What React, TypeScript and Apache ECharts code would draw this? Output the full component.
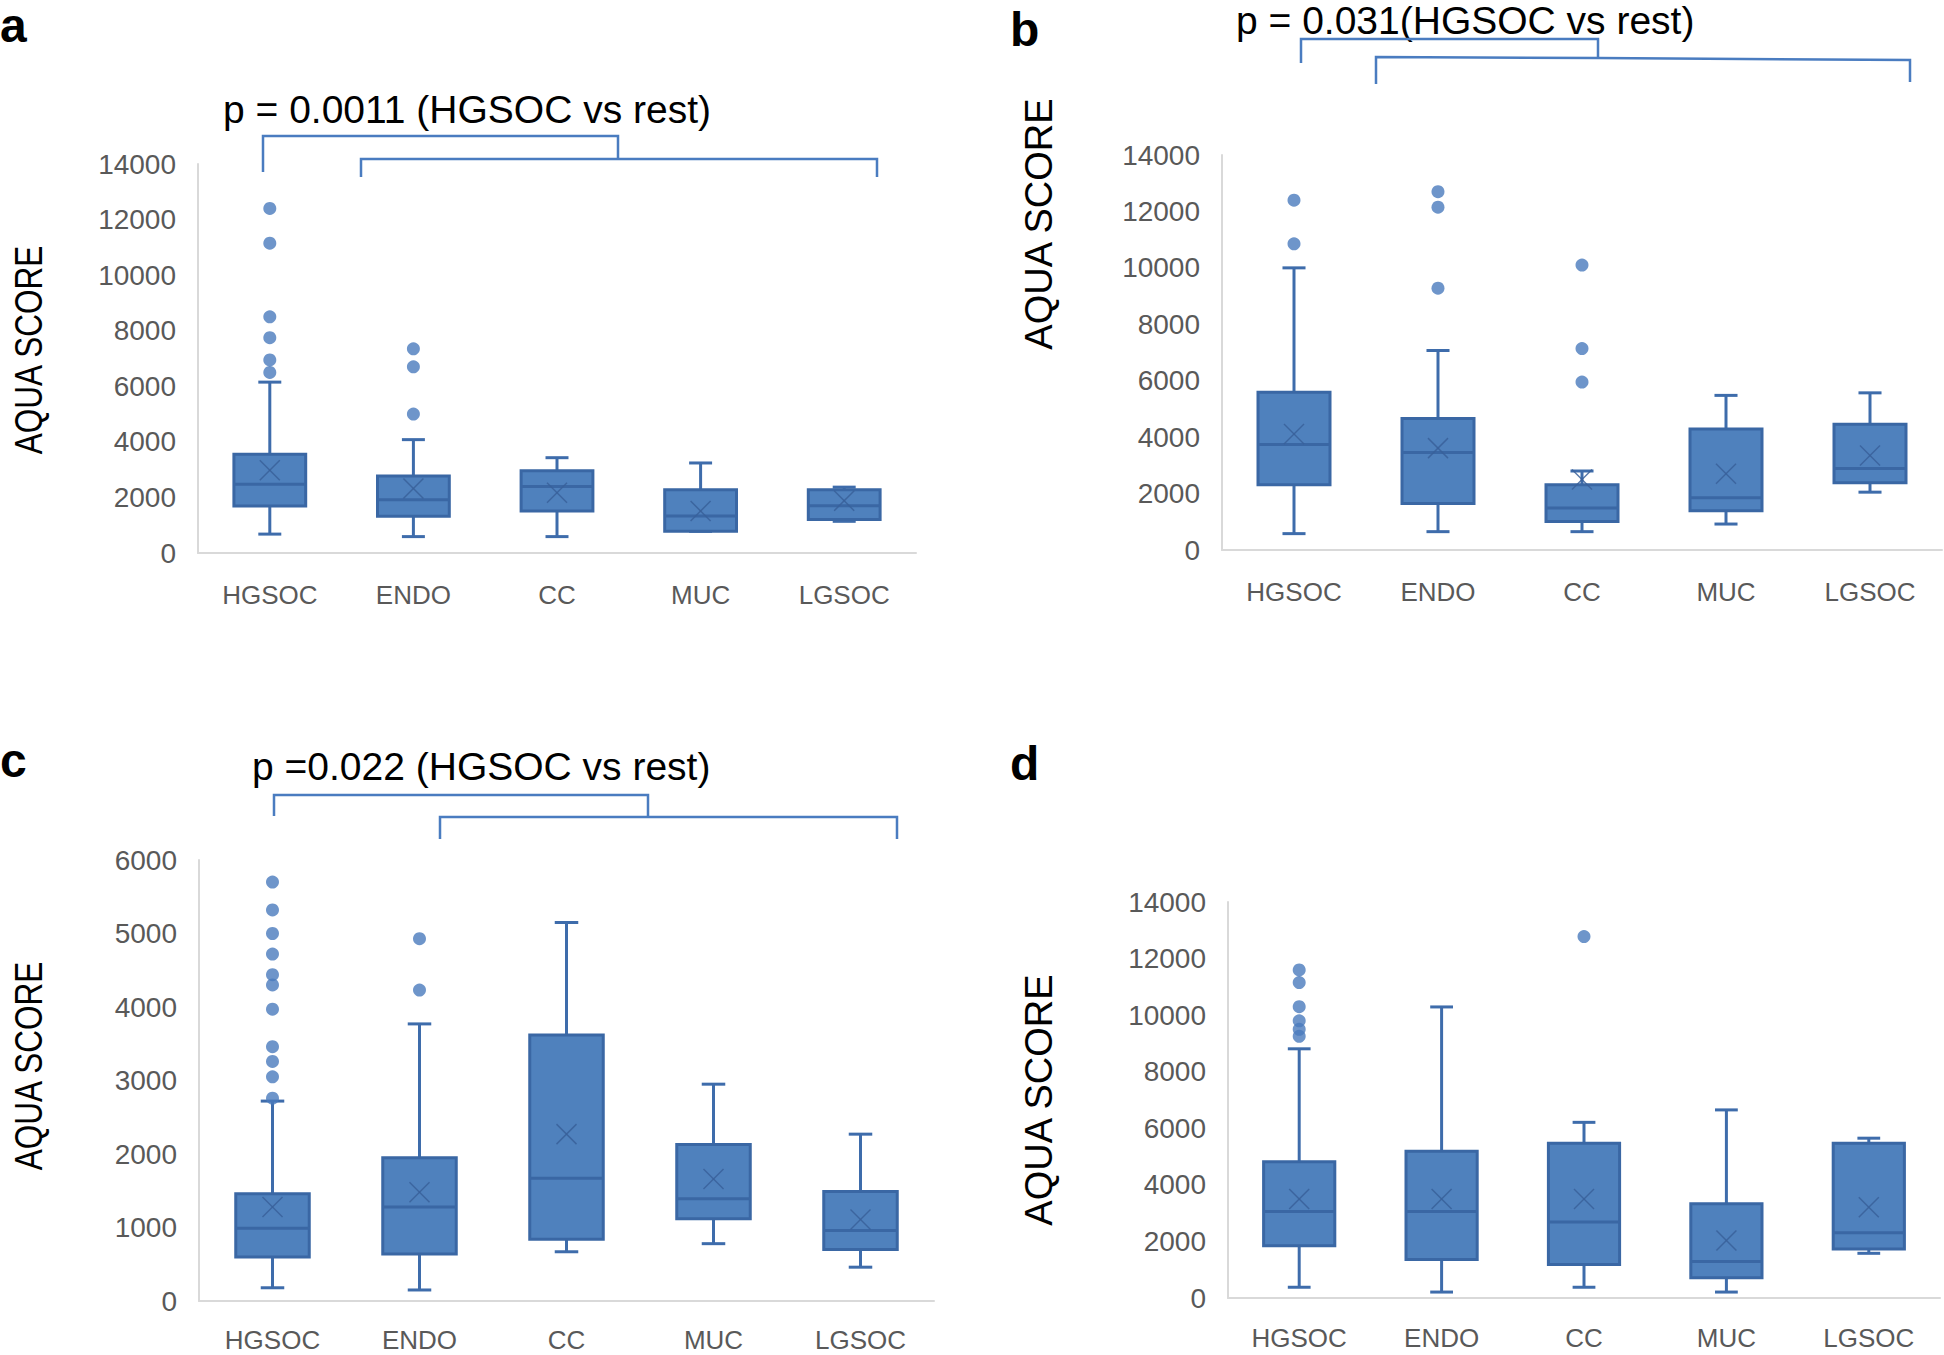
import React, { useEffect, useRef } from "react";
import * as echarts from "echarts";

// ---------- data ----------
const categories = ["HGSOC", "ENDO", "CC", "MUC", "LGSOC"];

// each row: [low whisker, Q1, median, Q3, high whisker, mean]
const statsA = [
  [680, 1690, 2470, 3550, 6150, 2980],
  [590, 1320, 1920, 2770, 4080, 2320],
  [590, 1510, 2390, 2960, 3430, 2170],
  [780, 780, 1330, 2280, 3240, 1510],
  [1140, 1210, 1700, 2280, 2370, 1880],
];
const outliersA = [
  [12400, 11150, 8500, 7750, 6950, 6500],
  [7350, 6700, 5000],
  [],
  [],
  [],
];

const statsB = [
  [580, 2310, 3740, 5590, 10000, 4110],
  [650, 1650, 3460, 4660, 7070, 3610],
  [650, 1010, 1490, 2310, 2800, 2500],
  [920, 1390, 1850, 4290, 5480, 2700],
  [2050, 2380, 2890, 4460, 5570, 3350],
];
const outliersB = [
  [12400, 10850],
  [12700, 12150, 9280],
  [10100, 7140, 5950],
  [],
  [],
];

const statsC = [
  [180, 600, 990, 1460, 2720, 1280],
  [150, 640, 1280, 1950, 3770, 1480],
  [670, 840, 1670, 3620, 5150, 2270],
  [780, 1120, 1390, 2130, 2950, 1660],
  [460, 700, 960, 1490, 2270, 1110],
];
const outliersC = [
  [5700, 5320, 5000, 4720, 4440, 4300, 3970, 3460, 3260, 3050, 2760],
  [4930, 4230],
  [],
  [],
  [],
];

const statsD = [
  [380, 1850, 3060, 4820, 8810, 3500],
  [210, 1360, 3060, 5190, 10290, 3500],
  [380, 1180, 2690, 5470, 6210, 3500],
  [210, 720, 1290, 3330, 6650, 2030],
  [1580, 1730, 2310, 5470, 5650, 3210],
];
const outliersD = [
  [11600, 11150, 10300, 9800, 9500, 9250],
  [],
  [12780],
  [],
  [],
];

const yMaxLarge = 14000;
const yStepLarge = 2000;
const yMaxSmall = 6000;
const yStepSmall = 1000;

const pTextA = "p = 0.0011 (HGSOC vs rest)";
const pTextB = "p = 0.031(HGSOC vs rest)";
const pTextC = "p =0.022 (HGSOC vs rest)";
const yTitle = "AQUA SCORE";

// ---------- styles ----------
const BOX_FILL = "#4f81bd";
const BOX_STROKE = "#3a67a4";
const WHISKER = "#3e6cab";
const MEAN_X = "#38609a";
const DOT = "#4a7bbd";
const AXIS_GREY = "#d9d9d9";
const TICK_GREY = "#595959";
const BRACKET = "#4a7cc0";

const renderBox = (params: any, api: any) => {
  const idx = api.value(0);
  const low = api.coord([idx, api.value(1)]);
  const q1 = api.coord([idx, api.value(2)]);
  const med = api.coord([idx, api.value(3)]);
  const q3 = api.coord([idx, api.value(4)]);
  const high = api.coord([idx, api.value(5)]);
  const mean = api.coord([idx, api.value(6)]);
  const band = api.size([1, 0])[0];
  const bw = band * 0.5;
  const cw = band * 0.16;
  const x = q1[0];
  const ms = 10;
  const lineStyle = { stroke: WHISKER, lineWidth: 3 };
  const children: any[] = [
    { type: "line", shape: { x1: x, y1: high[1], x2: x, y2: q3[1] }, style: lineStyle },
    { type: "line", shape: { x1: x - cw / 2, y1: high[1], x2: x + cw / 2, y2: high[1] }, style: lineStyle },
    { type: "line", shape: { x1: x, y1: q1[1], x2: x, y2: low[1] }, style: lineStyle },
    { type: "line", shape: { x1: x - cw / 2, y1: low[1], x2: x + cw / 2, y2: low[1] }, style: lineStyle },
    {
      type: "rect",
      shape: { x: x - bw / 2, y: q3[1], width: bw, height: q1[1] - q3[1] },
      style: { fill: BOX_FILL, stroke: BOX_STROKE, lineWidth: 3 },
    },
    { type: "line", shape: { x1: x - bw / 2, y1: med[1], x2: x + bw / 2, y2: med[1] }, style: { stroke: BOX_STROKE, lineWidth: 3 } },
    { type: "line", shape: { x1: x - ms, y1: mean[1] - ms, x2: x + ms, y2: mean[1] + ms }, style: { stroke: MEAN_X, lineWidth: 1.5, opacity: 0.85 } },
    { type: "line", shape: { x1: x + ms, y1: mean[1] - ms, x2: x - ms, y2: mean[1] + ms }, style: { stroke: MEAN_X, lineWidth: 1.5, opacity: 0.85 } },
  ];
  return { type: "group", children };
};

type Panel = {
  stats: number[][];
  outliers: number[][];
  grid: { left: number; top: number; width: number; height: number };
  max: number;
  step: number;
  labelMargin: number;
};

const panels: Panel[] = [
  { stats: statsA, outliers: outliersA, grid: { left: 198, top: 164, width: 718, height: 389 }, max: yMaxLarge, step: yStepLarge, labelMargin: 29 },
  { stats: statsB, outliers: outliersB, grid: { left: 1222, top: 155, width: 720, height: 395 }, max: yMaxLarge, step: yStepLarge, labelMargin: 29 },
  { stats: statsC, outliers: outliersC, grid: { left: 199, top: 860, width: 735, height: 441 }, max: yMaxSmall, step: yStepSmall, labelMargin: 26 },
  { stats: statsD, outliers: outliersD, grid: { left: 1228, top: 902, width: 712, height: 396 }, max: yMaxLarge, step: yStepLarge, labelMargin: 27 },
];

const TICK_FONT = "Liberation Sans";

function buildOption() {
  const grid: any[] = [];
  const xAxis: any[] = [];
  const yAxis: any[] = [];
  const series: any[] = [];
  panels.forEach((p, i) => {
    grid.push({ ...p.grid, containLabel: false });
    xAxis.push({
      type: "category",
      gridIndex: i,
      data: categories,
      axisTick: { show: false },
      axisLine: { show: true, lineStyle: { color: AXIS_GREY, width: 2 } },
      axisLabel: { color: TICK_GREY, fontSize: 26, fontFamily: TICK_FONT, margin: p.labelMargin },
      splitLine: { show: false },
    });
    yAxis.push({
      type: "value",
      gridIndex: i,
      min: 0,
      max: p.max,
      interval: p.step,
      axisTick: { show: false },
      axisLine: { show: true, lineStyle: { color: AXIS_GREY, width: 2 } },
      axisLabel: {
        color: TICK_GREY,
        fontSize: 28,
        fontFamily: TICK_FONT,
        margin: 22,
        formatter: (v: number) => String(v),
      },
      splitLine: { show: false },
    });
    series.push({
      type: "custom",
      xAxisIndex: i,
      yAxisIndex: i,
      renderItem: renderBox,
      encode: { x: 0, y: [1, 2, 3, 4, 5, 6] },
      data: p.stats.map((s, k) => [k, ...s]),
      z: 2,
    });
    const pts: number[][] = [];
    p.outliers.forEach((arr, k) => arr.forEach((v) => pts.push([k, v])));
    series.push({
      type: "scatter",
      xAxisIndex: i,
      yAxisIndex: i,
      symbol: "circle",
      symbolSize: 13,
      itemStyle: { color: DOT },
      data: pts,
      z: 3,
    });
  });

  const letter = (t: string, x: number, y: number) => ({
    type: "text",
    x,
    y,
    style: { text: t, font: "bold 48px 'Liberation Sans'", fill: "#000", align: "left", verticalAlign: "middle" },
  });
  const ptext = (t: string, x: number, y: number) => ({
    type: "text",
    x,
    y,
    style: { text: t, font: "39px 'Liberation Sans'", fill: "#000", align: "left", verticalAlign: "middle" },
  });
  const ytitle = (x: number, y: number, sx: number) => ({
    type: "text",
    x,
    y,
    rotation: Math.PI / 2,
    scaleX: sx,
    style: { text: yTitle, font: "38px 'Liberation Sans'", fill: "#000", align: "center", verticalAlign: "middle" },
  });
  const pl = (points: number[][]) => ({
    type: "polyline",
    shape: { points },
    style: { stroke: BRACKET, lineWidth: 2.5, fill: null },
  });

  const graphic: any[] = [
    letter("a", 0, 25),
    letter("b", 1010, 29),
    letter("c", 0, 760),
    letter("d", 1010, 763),
    ptext(pTextA, 223, 109),
    ptext(pTextB, 1236, 20),
    ptext(pTextC, 252, 766),
    ytitle(28, 350, 0.83),
    ytitle(1039, 224, 1),
    ytitle(28, 1066, 0.83),
    ytitle(1039, 1100, 1),
    // bracket a
    pl([[263, 172], [263, 136], [618, 136], [618, 159]]),
    pl([[361, 177], [361, 159], [877, 159], [877, 177]]),
    // bracket b
    pl([[1301, 63], [1301, 39], [1598, 39], [1598, 59]]),
    pl([[1376, 84], [1376, 57], [1598, 58], [1910, 60], [1910, 82]]),
    // bracket c
    pl([[274, 816], [274, 795], [648, 795], [648, 817]]),
    pl([[440, 839], [440, 817], [897, 817], [897, 839]]),
  ];

  return {
    animation: false,
    backgroundColor: "#ffffff",
    grid,
    xAxis,
    yAxis,
    series,
    graphic,
  };
}

export default function App() {
  const ref = useRef<HTMLDivElement>(null);
  useEffect(() => {
    if (!ref.current) return;
    const chart = echarts.init(ref.current, undefined, { renderer: "svg" });
    chart.setOption(buildOption() as any);
    return () => chart.dispose();
  }, []);
  return (
    <div
      ref={ref}
      style={{ position: "fixed", left: 0, top: 0, width: 1944, height: 1355, background: "#fff" }}
    />
  );
}
